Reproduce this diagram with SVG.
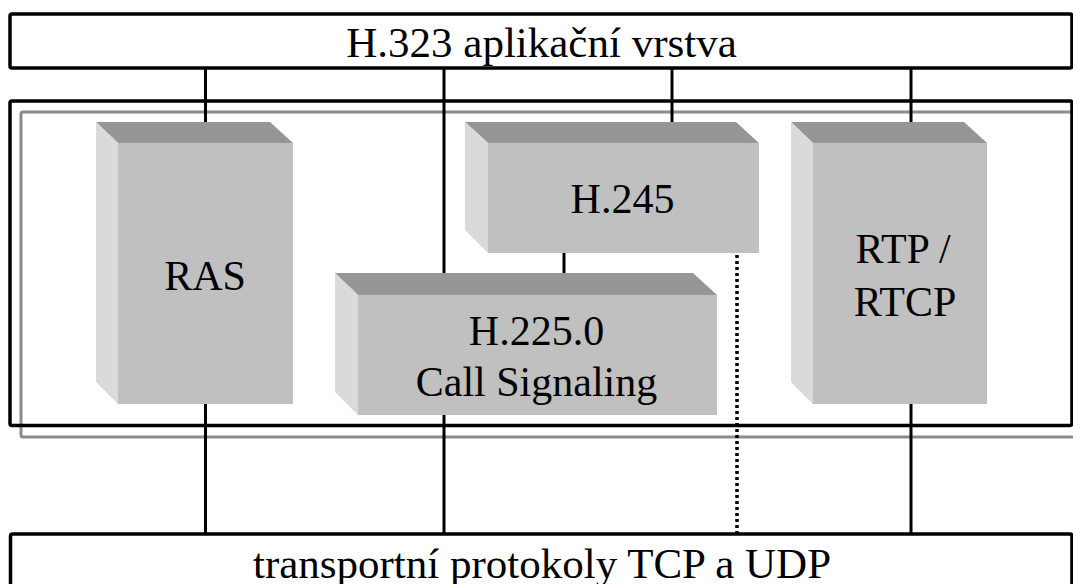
<svg xmlns="http://www.w3.org/2000/svg" width="1073" height="584" viewBox="0 0 1073 584">
<style>
  .lbl { font-family: 'Liberation Serif', 'Times New Roman', Times, 'DejaVu Serif', serif; font-size: 42px; fill: #000; text-anchor: middle; }
  .big { font-size: 43px; }
  .layer { fill: #fff; stroke: #000; stroke-width: 3.5; }
  .conn { stroke: #000; stroke-width: 3; fill: none; }
  .dot { stroke: #000; stroke-width: 3.5; stroke-dasharray: 3 3; fill: none; }
  .top { fill: #969696; }
  .front { fill: #c0c0c0; }
  .side { fill: #dadada; }
</style>
<rect width="1073" height="584" fill="#fff"/>
<g id="frames">
  <rect x="21" y="112" width="1080" height="325" rx="2" fill="none" stroke="#8c8c8c" stroke-width="3"/>
  <rect x="10" y="101" width="1062" height="324.5" rx="2" fill="none" stroke="#000" stroke-width="3.5"/>
</g>
<g id="connectors">
  <line class="conn" x1="205.5" y1="68" x2="205.5" y2="122"/>
  <line class="conn" x1="205.5" y1="404" x2="205.5" y2="534"/>
  <line class="conn" x1="444" y1="68" x2="444" y2="534"/>
  <line class="conn" x1="672" y1="68" x2="672" y2="122"/>
  <line class="conn" x1="564" y1="252" x2="564" y2="274"/>
  <line class="conn" x1="911" y1="68" x2="911" y2="122"/>
  <line class="conn" x1="911" y1="404" x2="911" y2="534"/>
  <line class="dot" x1="737" y1="255" x2="737" y2="533"/>
</g>
<g id="app-layer">
  <rect class="layer" x="10" y="14" width="1062" height="54" rx="2"/>
  <text class="lbl big" x="541.5" y="56.5">H.323 aplikační vrstva</text>
</g>
<g id="ras">
  <polygon class="top" points="96,122 270,122 293,143 118,143"/>
  <polygon class="side" points="96,122 118,143 118,404 96,382"/>
  <rect class="front" x="118" y="143" width="175" height="261"/>
  <text class="lbl" x="205" y="290">RAS</text>
</g>
<g id="h245">
  <polygon class="top" points="465,122 736,122 759,143 488,143"/>
  <polygon class="side" points="465,122 488,143 488,253 465,230"/>
  <rect class="front" x="488" y="143" width="271" height="110"/>
  <text class="lbl" x="622.5" y="213">H.245</text>
</g>
<g id="h225">
  <polygon class="top" points="335,273 693,273 717,295 358,295"/>
  <polygon class="side" points="335,273 358,295 358,415 335,392"/>
  <rect class="front" x="358" y="295" width="359" height="120"/>
  <text class="lbl" x="536.5" y="345">H.225.0</text>
  <text class="lbl" x="536.5" y="396">Call Signaling</text>
</g>
<g id="rtp">
  <polygon class="top" points="791,122 964,122 987,143 813,143"/>
  <polygon class="side" points="791,122 813,143 813,404 791,382"/>
  <rect class="front" x="813" y="143" width="174" height="261"/>
  <text class="lbl" x="903" y="263">RTP /</text>
  <text class="lbl" x="905" y="316">RTCP</text>
</g>
<g id="transport-layer">
  <rect class="layer" x="10.5" y="534" width="1061.5" height="70" rx="2"/>
  <text class="lbl big" x="542" y="578">transportní protokoly TCP a UDP</text>
</g>
</svg>
